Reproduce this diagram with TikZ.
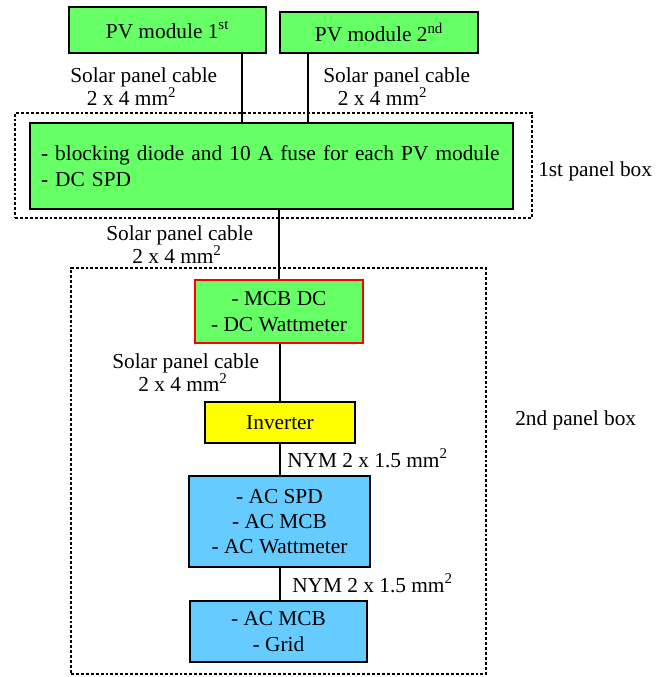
\documentclass[tikz,border=0pt]{standalone}
\usepackage{fontspec}
\setmainfont{Liberation Serif}
\usetikzlibrary{positioning, calc}
\newdimen\pxu \pxu=0.75pt
\definecolor{pvgreen}{HTML}{66FF66}
\definecolor{invyellow}{HTML}{FFFF00}
\definecolor{acblue}{HTML}{66CCFF}
\tikzset{
    module/.style={rectangle, draw, line width=1.3pt, fill=pvgreen, align=center, inner sep=0pt},
    dc box/.style={module, draw=red},
    inverter/.style={module, fill=invyellow},
    ac box/.style={module, fill=acblue},
    panel box/.style={rectangle, draw, line width=1pt, dash pattern=on 2.2pt off 1.5pt, inner sep=0pt},
    cable/.style={line width=1.1pt},
    cable label/.style={align=left, inner sep=0pt, anchor=north west, font=\fontsize{16}{17.5}\selectfont},
    box label/.style={inner sep=0pt, anchor=base west}
}

\begin{document}
\begin{tikzpicture}[x=0.75pt, y=-0.75pt, font=\fontsize{16}{19}\selectfont]
    \useasboundingbox (0,0) rectangle (664,677);
    % panel boxes
    \node[panel box, minimum width=517\pxu, minimum height=105\pxu] (box1) at (273.5,165.5) {};
    \node[panel box, minimum width=415\pxu, minimum height=406\pxu] (box2) at (278.5,471) {};
    \node[box label] (box1 text) at (538,177) {1st panel box};
    \node[box label] (box2 text) at (515,425) {2nd panel box};

    % modules
    \node[module, minimum width=197\pxu, minimum height=46\pxu] (pv1) at (167.5,30) {PV module 1\textsuperscript{st}};
    \node[module, minimum width=198\pxu, minimum height=41\pxu] (pv2) at (379,32.5) {PV module 2\textsuperscript{nd}};
    \node[module, align=left, text width=461\pxu, inner xsep=11\pxu, minimum height=86\pxu] (main) at (271.5,166)
        {- blocking diode and 10 A fuse for each PV module\\- DC SPD};

    % second box
    \node[dc box, minimum width=168\pxu, minimum height=63\pxu] (mcb) at (279,311.5) {- MCB DC\\- DC Wattmeter};
    \node[inverter, minimum width=150\pxu, minimum height=41\pxu] (inv) at (280,422.5) {Inverter};
    \node[ac box, minimum width=181\pxu, minimum height=91\pxu] (ac) at (279.5,521.5) {- AC SPD\\- AC MCB\\- AC Wattmeter};
    \node[ac box, minimum width=177\pxu, minimum height=61\pxu] (grid) at (278.5,631.5) {- AC MCB\\- Grid};

    % cables
    \draw[cable] ([xshift=-25\pxu]pv1.south east) coordinate (c1) -- (c1 |- main.north);
    \draw[cable] ([xshift=29\pxu]pv2.south west) coordinate (c2) -- (c2 |- main.north);
    \draw[cable] (mcb.north |- main.south) -- (mcb.north);
    \draw[cable] (inv.north |- mcb.south) -- (inv.north);
    \draw[cable] (inv.south) -- (inv.south |- ac.north);
    \draw[cable] (inv.south |- ac.south) -- (inv.south |- grid.north);

    \node[cable label] (cab1) at (70,67.4) {Solar panel cable\\\hspace*{12.5pt}2 x 4 mm\textsuperscript{2}};
    \node[cable label] (cab2) at (323,67.4) {Solar panel cable\\\hspace*{11pt}2 x 4 mm\textsuperscript{2}};
    \node[cable label] (cab3) at (106,225.4) {Solar panel cable\\\hspace*{19.5pt}2 x 4 mm\textsuperscript{2}};
    \node[cable label] (cab4) at (112,353.4) {Solar panel cable\\\hspace*{19.5pt}2 x 4 mm\textsuperscript{2}};
    \node[box label] (nym1) at (287,467) {NYM 2 x 1.5 mm\textsuperscript{2}};
    \node[box label] (nym2) at (292,592) {NYM 2 x 1.5 mm\textsuperscript{2}};
\end{tikzpicture}
\end{document}
